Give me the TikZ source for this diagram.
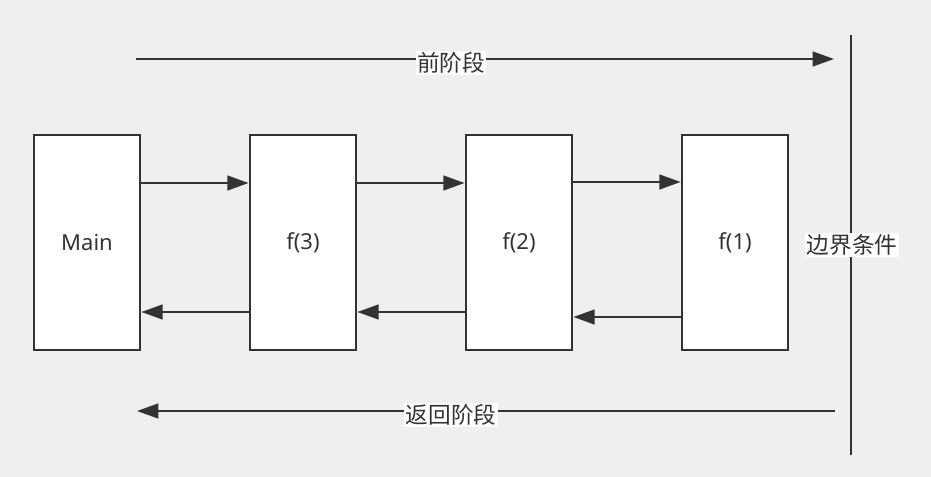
\documentclass[tikz,border=0pt]{standalone}
\usepackage{fontspec}
\setmainfont{Noto Sans}
\newfontfamily\cjk{Noto Sans CJK SC}
\usetikzlibrary{arrows.meta}
\definecolor{bg}{HTML}{EFEFEF}
\definecolor{ink}{HTML}{333333}
\begin{document}
\begin{tikzpicture}[x=0.75pt,y=-0.75pt,
  fbox/.style={draw=ink,fill=white,line width=2pt,minimum width=106*0.75pt,minimum height=215*0.75pt,inner sep=0pt,font=\fontsize{16.5}{19}\selectfont,text=ink},
  conn/.style={draw=ink,line width=1.8pt,-{Triangle[length=16pt,width=11pt]}},
  lbl/.style={fill=white,inner sep=1pt,font=\cjk\fontsize{17}{20}\selectfont,text=ink}]
\useasboundingbox[fill=bg] (0,0) rectangle (931,477);
\node[fbox] (main) at (87,242.5) {\raisebox{-2pt}{Main}};
\node[fbox] (f3) at (303,242.5) {\raisebox{-2pt}{f(3)}};
\node[fbox] (f2) at (519,242.5) {\raisebox{-2pt}{f(2)}};
\node[fbox] (f1) at (735,242.5) {\raisebox{-2pt}{f(1)}};
\draw[conn] (main.east |- 0,183) -- (f3.west |- 0,183);
\draw[conn] (f3.east |- 0,183) -- (f2.west |- 0,183);
\draw[conn] (f2.east |- 0,182) -- (f1.west |- 0,182);
\draw[conn] (f3.west |- 0,312) -- (main.east |- 0,312);
\draw[conn] (f2.west |- 0,312) -- (f3.east |- 0,312);
\draw[conn] (f1.west |- 0,317) -- (f2.east |- 0,317);
\coordinate (vt) at (851,35);
\coordinate (vb) at (851,455);
\draw[draw=ink,line width=1.8pt] (vt) -- (vb);
\coordinate (ts) at (136,59);
\coordinate (te) at (834,59);
\coordinate (bs) at (835,411);
\coordinate (be) at (137,411);
\draw[conn] (ts) -- (te);
\draw[conn] (bs) -- (be);
\node[lbl] (pre) at (451,63) {前阶段};
\node[lbl] (ret) at (451,415) {返回阶段};
\node[lbl] (bd) at (852,245) {边界条件};
\end{tikzpicture}
\end{document}
